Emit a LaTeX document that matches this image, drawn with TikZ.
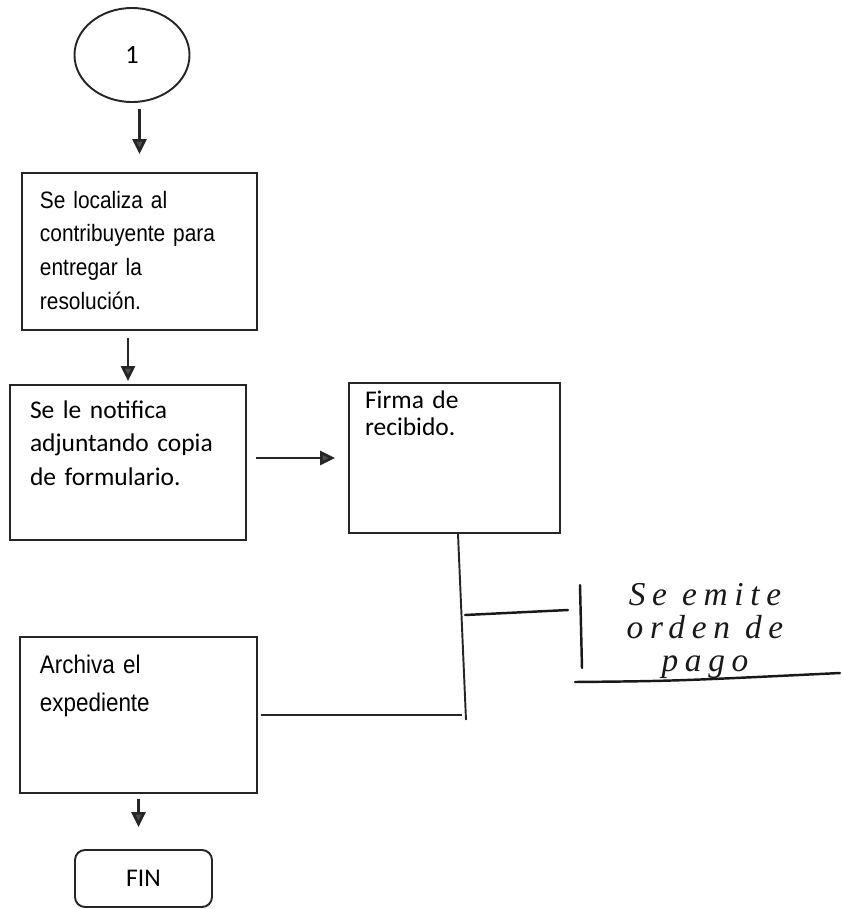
\documentclass[tikz,border=0pt]{standalone}
\usepackage{fontspec}
\setmainfont{Liberation Sans}
\newfontfamily\narrow[FakeStretch=0.88]{Liberation Sans}
\newfontfamily\calibri{Carlito}
\newfontfamily\hand[LetterSpace=20]{Liberation Serif}
\usetikzlibrary{arrows.meta,shapes.geometric}

\begin{document}
\begin{tikzpicture}[
    box/.style={draw=black!85, line width=1.1pt, align=left, inner ysep=0pt},
    arr/.style={-{Triangle[length=0.3cm,width=0.28cm,fill=black!70]}, draw=black!85, line width=1.5pt},
    handline/.style={line width=1.4pt, line cap=round, black!90}
  ]
  \useasboundingbox (0,0) rectangle (16.84,-18.18);
  % connector and process boxes
  \node[draw=black!85, ellipse, line width=1.1pt, minimum width=2.3cm, minimum height=1.88cm,
        font=\calibri\fontsize{15}{17}\selectfont] (uno) at (2.64,-1.10) {1};
  \node[box, text width=3.98cm, inner xsep=0.36cm, text height=0.70cm, text depth=2.44cm,
        font=\narrow\fontsize{13.5}{19.3}\selectfont] (loc) at (2.79,-5.03)
        {Se localiza al\\contribuyente para\\entregar la\\resolución.};
  \node[box, text width=3.92cm, inner xsep=0.40cm, text height=0.66cm, text depth=2.44cm,
        font=\calibri\fontsize{14.5}{19.3}\selectfont] (notif) at (2.56,-9.25)
        {Se le notifica\\adjuntando copia\\de formulario.};
  \node[box, text width=3.58cm, inner xsep=0.32cm, text height=0.50cm, text depth=2.50cm,
        font=\calibri\fontsize{14.5}{15.5}\selectfont] (firma) at (9.09,-9.16)
        {Firma de\\recibido.};
  \node[box, text width=3.94cm, inner xsep=0.40cm, text height=0.72cm, text depth=2.40cm,
        font=\narrow\fontsize{14.5}{22}\selectfont] (arch) at (2.77,-14.30)
        {Archiva el\\expediente};
  \node[draw=black!85, line width=1.1pt, rounded corners=0.2cm, minimum width=2.74cm, minimum height=1.14cm,
        font=\calibri\fontsize{14.5}{16}\selectfont] (fin) at (2.87,-17.57) {FIN};
  % arrows
  \draw[arr, shorten <=0.12cm, shorten >=0.36cm] (loc.north |- uno.south) -- (loc.north);
  \draw[arr, shorten <=0.14cm, shorten >=0.06cm] (notif.north |- loc.south) -- (notif.north);
  \draw[arr, shorten <=0.18cm, shorten >=0.26cm] (firma.west -| notif.east) -- (firma.west);
  \draw[arr, shorten <=0.10cm, shorten >=0.44cm] (arch.south) -- (arch.south |- fin.north);
  % lines joining the boxes
  \coordinate (baja) at (9.32,-14.40);
  \coordinate (union) at (9.24,-14.30);
  \draw[line width=1.1pt, black!85] ([xshift=0.07cm]firma.south) -- (baja);
  \draw[line width=1.1pt, black!85] ([xshift=0.06cm]arch.east) -- (union);
  % handwritten note
  \coordinate (rama) at (9.30,-12.30);
  \coordinate (nota) at (11.36,-12.20);
  \draw[handline] (rama) -- (nota);
  \draw[handline] (11.60,-11.70) -- (11.64,-13.36);
  \draw[handline] (11.50,-13.64) .. controls (13.5,-13.62) .. (16.80,-13.46);
  \node[align=center, font=\hand\itshape\fontsize{19}{18.5}\selectfont, black!90] (orden) at (14.1,-12.62)
        {Se emite\\orden de\\pago};
\end{tikzpicture}
\end{document}
